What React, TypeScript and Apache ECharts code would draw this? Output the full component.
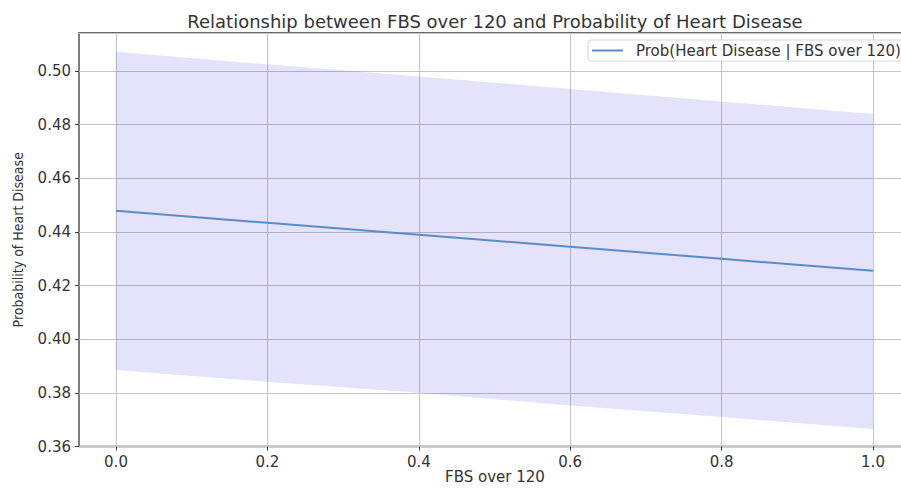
import React, { useEffect, useRef } from "react";
import * as echarts from "echarts";

// FBS over 120 (0 = no, 1 = yes) evaluated along the axis
const fbsValues = [0, 0.2, 0.4, 0.6, 0.8, 1.0];
// Predicted probability of heart disease
const probMean = [0.4479, 0.4434, 0.439, 0.4345, 0.43, 0.4255];
// Confidence band bounds
const probLower = [0.3885, 0.3841, 0.38, 0.3753, 0.371, 0.3665];
const probUpper = [0.5072, 0.5025, 0.498, 0.4933, 0.4887, 0.484];

const Y_MIN = 0.36;
const Y_MAX = 0.5142;
const FONT = "DejaVu Sans";
const TEXT = "#333333";
const SERIES_NAME = "Prob(Heart Disease | FBS over 120)";
const X_NAME = "FBS over 120";

export default function App() {
  const ref = useRef<HTMLDivElement>(null);

  useEffect(() => {
    if (!ref.current) return;
    const chart = echarts.init(ref.current, null, { renderer: "svg" });

    const meanData = fbsValues.map((x, i) => [x, probMean[i]]);
    const bandData = fbsValues.map((x, i) => [x, probLower[i], probUpper[i]]);

    chart.setOption({
      animation: false,
      backgroundColor: "#ffffff",
      title: {
        text: "Relationship between FBS over 120 and Probability of Heart Disease",
        left: 490,
        textAlign: "center",
        top: 7,
        textStyle: { fontFamily: FONT, fontSize: 18, fontWeight: "normal", color: TEXT },
      },
      legend: {
        data: [{ name: SERIES_NAME, icon: "rect" }],
        left: 588,
        top: 40,
        itemWidth: 31,
        itemHeight: 2,
        padding: [3, 14, 3, 4],
        borderColor: "#d6d6d6",
        borderWidth: 1,
        borderRadius: 3,
        backgroundColor: "rgba(255,255,255,0.85)",
        textStyle: { fontFamily: FONT, fontSize: 15, color: TEXT, padding: [0, 0, 0, 8] },
      },
      // x-axis title, centred under the plot frame
      graphic: [
        {
          type: "text",
          x: 495,
          y: 477,
          style: {
            text: X_NAME,
            textAlign: "center",
            textVerticalAlign: "middle",
            verticalAlign: "middle",
            fontFamily: FONT,
            fontSize: 15,
            fill: TEXT,
          },
        },
      ],
      grid: [
        // data area: x from 0 to 1
        { left: 116, right: 28, top: 33, bottom: 42.5, containLabel: false, outerBoundsMode: "none" },
        // outer frame with horizontal grid lines
        {
          left: 79,
          right: -2,
          top: 33,
          bottom: 42.5,
          show: true,
          borderColor: "#3a3a3a",
          borderWidth: 1.3,
          backgroundColor: "transparent",
          containLabel: false,
          outerBoundsMode: "none",
        },
      ],
      xAxis: [
        {
          type: "value",
          gridIndex: 0,
          min: 0,
          max: 1,
          interval: 0.2,
          axisLine: { show: false },
          axisTick: { show: true, length: 4, inside: false, lineStyle: { color: "#3a3a3a" } },
          axisLabel: {
            margin: 8,
            fontFamily: FONT,
            fontSize: 15,
            color: TEXT,
            formatter: (v: number) => v.toFixed(1),
          },
          splitLine: { show: true, lineStyle: { color: "#c4c4c4", width: 1 } },
        },
        {
          type: "value",
          gridIndex: 1,
          min: 0,
          max: 1,
          show: false,
        },
      ],
      yAxis: [
        {
          type: "value",
          gridIndex: 0,
          min: Y_MIN,
          max: Y_MAX,
          show: false,
        },
        {
          type: "value",
          gridIndex: 1,
          min: Y_MIN,
          max: Y_MAX,
          interval: 0.02,
          axisLine: { show: false },
          axisTick: { show: true, length: 4, lineStyle: { color: "#3a3a3a" } },
          axisLabel: {
            margin: 8,
            fontFamily: FONT,
            fontSize: 15,
            color: TEXT,
            showMaxLabel: false,
            formatter: (v: number) => v.toFixed(2),
          },
          splitLine: { show: true, lineStyle: { color: "#c4c4c4", width: 1 } },
          name: "Probability of Heart Disease",
          nameLocation: "middle",
          nameGap: 54,
          nameTextStyle: { fontFamily: "DejaVu Sans Condensed", fontSize: 14, color: TEXT },
        },
      ],
      series: [
        {
          name: "band",
          type: "custom",
          xAxisIndex: 0,
          yAxisIndex: 0,
          silent: true,
          data: bandData,
          renderItem: (params: any, api: any) => {
            // draw the whole band once, from the first data item
            if (params.dataIndex !== 0) return null;
            const top = bandData.map((d) => api.coord([d[0], d[2]]));
            const bottom = bandData
              .slice()
              .reverse()
              .map((d) => api.coord([d[0], d[1]]));
            return {
              type: "polygon",
              shape: { points: top.concat(bottom) },
              style: { fill: "rgba(40,40,235,0.13)" },
            };
          },
        },
        {
          name: SERIES_NAME,
          type: "line",
          xAxisIndex: 0,
          yAxisIndex: 0,
          data: meanData,
          symbol: "none",
          color: "#5b8cc8",
          lineStyle: { color: "#5b8cc8", width: 2 },
        },
      ],
    });

    return () => chart.dispose();
  }, []);

  return (
    <div
      ref={ref}
      style={{ position: "absolute", left: 0, top: 0, width: 901, height: 489 }}
    />
  );
}
